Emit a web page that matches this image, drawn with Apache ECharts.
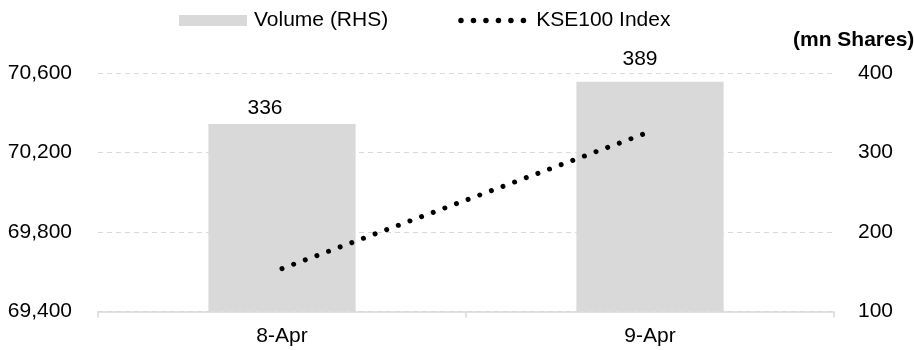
<!DOCTYPE html>
<html>
<head>
<meta charset="utf-8">
<script src="https://cdn.jsdelivr.net/npm/echarts@6/dist/echarts.min.js"></script>
<style>
html,body{margin:0;padding:0;background:#fff;}
#chart{width:914px;height:350px;}
</style>
</head>
<body>
<div id="chart"></div>
<script>
const categories = ['8-Apr', '9-Apr'];
const volume = [336, 389];
const kse100 = [69616, 70305];
const leftTicks = [69400, 69800, 70200, 70600];
const rightTicks = [100, 200, 300, 400];

const FONT = 'Liberation Sans, Arial, Helvetica, sans-serif';
const FS = 21;
const labelOffsets = [[-17, 4], [-10, -3]];

// legend icon: six round dots (path drawn in icon space)
function dotsPath(n, r, step) {
  let p = '';
  for (let i = 0; i < n; i++) {
    const cx = r + i * step;
    p += 'M' + (cx - r) + ' ' + r + ' a' + r + ' ' + r + ' 0 1 0 ' + (2 * r) + ' 0 a' + r + ' ' + r + ' 0 1 0 ' + (-2 * r) + ' 0 Z ';
  }
  return 'path://' + p;
}

const chart = echarts.init(document.getElementById('chart'), null, {renderer: 'canvas'});
chart.setOption({
  animation: false,
  backgroundColor: '#ffffff',
  textStyle: {fontFamily: FONT},
  grid: {left: 98, right: 80, top: 73, bottom: 38.5, containLabel: false},
  legend: {
    left: 174, top: 5,
    itemWidth: 68, itemHeight: 11, itemGap: 70,
    symbolKeepAspect: true,
    textStyle: {fontFamily: FONT, fontSize: FS, color: '#000', padding: [0, 0, 0, 2]},
    data: [
      {name: 'Volume (RHS)', icon: 'rect'},
      {name: 'KSE100 Index', icon: dotsPath(6, 2.6, 11.7), textStyle: {padding: [0, 0, 0, 5]}}
    ]
  },
  graphic: [{
    type: 'text', left: 793, top: 30,
    style: {text: '(mn Shares)', font: 'bold ' + FS + 'px ' + FONT, fill: '#000'}
  }],
  xAxis: {
    type: 'category',
    data: categories,
    axisLine: {lineStyle: {color: '#d9d9d9', width: 1.5}},
    axisTick: {show: true, alignWithLabel: false, length: 6, lineStyle: {color: '#d9d9d9', width: 1.5}},
    axisLabel: {fontFamily: FONT, fontSize: FS, color: '#000', margin: 14}
  },
  yAxis: [{
    type: 'value',
    min: leftTicks[0], max: leftTicks[leftTicks.length - 1], interval: leftTicks[1] - leftTicks[0],
    axisLine: {show: false}, axisTick: {show: false},
    axisLabel: {fontFamily: FONT, fontSize: FS, color: '#000', margin: 26,
      formatter: v => v.toLocaleString('en-US')},
    splitLine: {show: true, lineStyle: {color: '#d9d9d9', width: 1, type: [5, 4]}}
  }, {
    type: 'value',
    min: rightTicks[0], max: rightTicks[rightTicks.length - 1], interval: rightTicks[1] - rightTicks[0],
    axisLine: {show: false}, axisTick: {show: false},
    axisLabel: {fontFamily: FONT, fontSize: FS, color: '#000', margin: 24, align: 'left'},
    splitLine: {show: false}
  }],
  series: [{
    name: 'Volume (RHS)',
    type: 'bar',
    yAxisIndex: 1,
    barWidth: '40%',
    itemStyle: {color: '#d9d9d9'},
    data: volume.map((v, i) => ({value: v, label: {offset: labelOffsets[i]}})),
    label: {show: true, position: 'top', distance: 9, fontFamily: FONT, fontSize: FS, color: '#000'},
    z: 1
  }, {
    name: 'KSE100 Index',
    type: 'line',
    yAxisIndex: 0,
    data: kse100,
    symbol: 'none',
    lineStyle: {color: '#000', width: 5, type: [0.01, 12.4], cap: 'round'},
    itemStyle: {color: '#000'},
    z: 3
  }]
});
</script>
</body>
</html>
